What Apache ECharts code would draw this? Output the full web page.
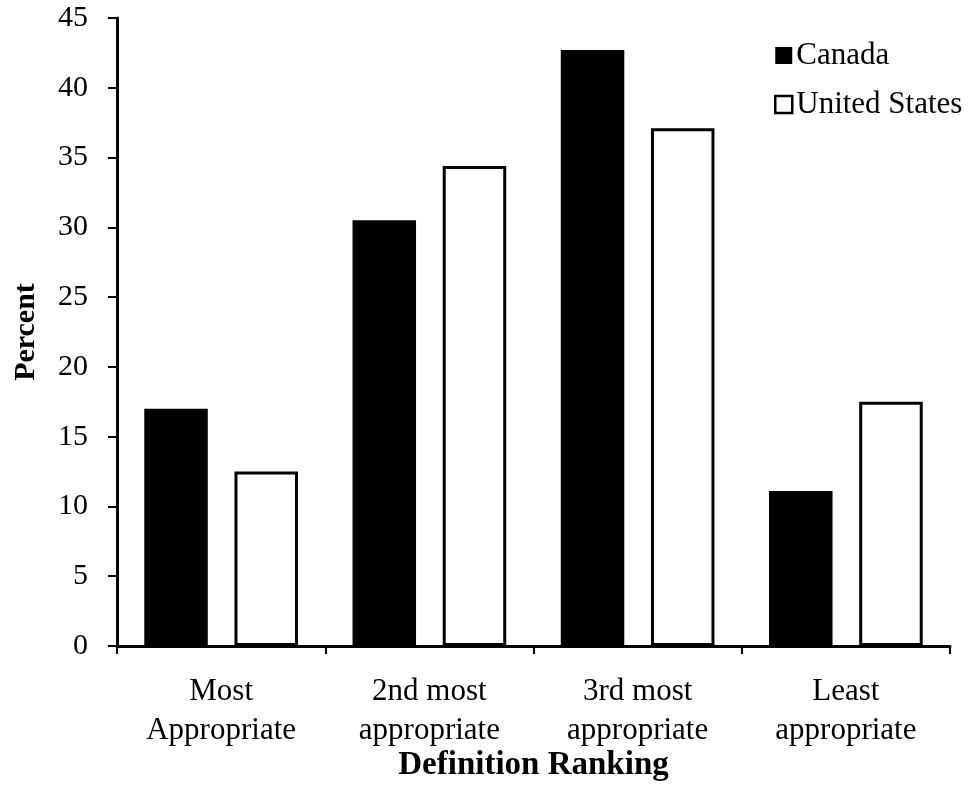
<!DOCTYPE html>
<html>
<head>
<meta charset="utf-8">
<script src="https://cdn.jsdelivr.net/npm/echarts@6/dist/echarts.min.js"></script>
<style>
html,body{margin:0;padding:0;background:#fff;}
#chart{width:979px;height:809px;}
</style>
</head>
<body>
<div id="chart"></div>
<script>
const categories = ['Most\nAppropriate', '2nd most\nappropriate', '3rd most\nappropriate', 'Least\nappropriate'];
const canada = [17.0, 30.5, 42.7, 11.1];
const unitedStates = [12.5, 34.4, 37.1, 17.5];
const yTicks = [0, 45, 5];

const font = 'Liberation Serif';
const chart = echarts.init(document.getElementById('chart'), null, {renderer: 'canvas'});
chart.setOption({
  animation: false,
  backgroundColor: '#fff',
  textStyle: {fontFamily: font, color: '#000'},
  grid: {left: 117, right: 29, top: 18, bottom: 163, outerBoundsMode: 'none', containLabel: false},
  legend: {
    orient: 'vertical', left: 769, top: 35,
    itemWidth: 17, itemHeight: 17, itemGap: 18,
    textStyle: {fontFamily: font, fontSize: 31, lineHeight: 30, color: '#000', padding: [0,0,0,-1]},
    data: [
      {name: 'Canada', icon: 'rect', itemStyle: {color: '#000', borderWidth: 0}},
      {name: 'United States', icon: 'rect', itemStyle: {color: '#fff', borderColor: '#000', borderWidth: 2.5}}
    ]
  },
  xAxis: {
    type: 'category', data: categories,
    name: 'Definition Ranking', nameLocation: 'middle', nameGap: 103, nameMoveOverlap: false,
    nameTextStyle: {fontFamily: font, fontSize: 33, fontWeight: 'bold', color: '#000'},
    axisLine: {lineStyle: {color: '#000', width: 3}},
    axisTick: {show: true, length: 8, lineStyle: {color: '#000', width: 2}},
    axisLabel: {fontFamily: font, fontSize: 31, color: '#000', lineHeight: 39, margin: 26, interval: 0}
  },
  yAxis: {
    type: 'value', min: yTicks[0], max: yTicks[1], interval: yTicks[2],
    name: 'Percent', nameLocation: 'middle', nameGap: 76, nameRotate: 90, nameMoveOverlap: false,
    nameTextStyle: {fontFamily: font, fontSize: 30, fontWeight: 'bold', color: '#000'},
    axisLine: {show: true, lineStyle: {color: '#000', width: 3}},
    axisTick: {show: true, length: 9, lineStyle: {color: '#000', width: 2}},
    splitLine: {show: false},
    axisLabel: {fontFamily: font, fontSize: 30, color: '#000', margin: 29}
  },
  series: [
    {name: 'Canada', type: 'bar', data: canada, barWidth: '30.5%', barGap: '42%',
     itemStyle: {color: '#000'}},
    {name: 'United States', type: 'bar', data: unitedStates, barWidth: '30.5%',
     itemStyle: {color: '#fff', borderColor: '#000', borderWidth: 3}}
  ]
});
</script>
</body>
</html>
